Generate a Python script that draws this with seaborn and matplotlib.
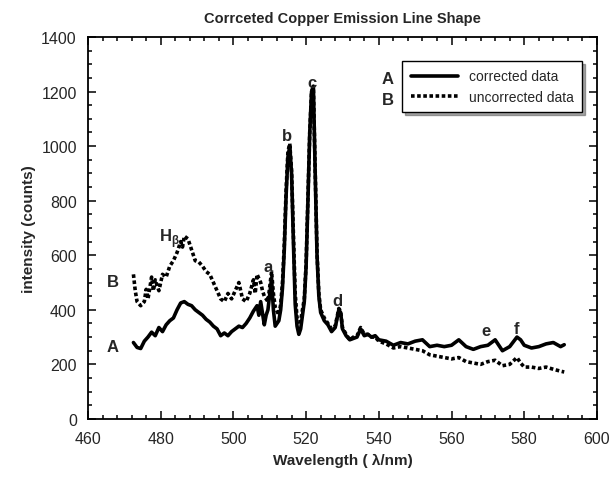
import matplotlib
matplotlib.use("Agg")
import matplotlib.pyplot as plt
from matplotlib.ticker import MultipleLocator
import seaborn as sns

# ── Data ──────────────────────────────────────────────────────
wl_a = [472.5, 473.5, 474.5, 475.5, 476.5, 477.5, 478.5, 479.5, 480.5, 481.5,
        482.5, 483.5, 484.5, 485.5, 486.5, 487.5, 488.5, 489.5, 490.5, 491.5,
        492.5, 493.5, 494.5, 495.5, 496.5, 497.5, 498.5, 499.5, 500.5, 501.5,
        502.5, 503.5, 504.5, 505.5, 506.5, 507.0, 507.5, 508.5, 509.0, 509.5,
        510.5, 511.0, 511.5, 512.5, 513.0, 513.5, 514.0, 514.5, 515.0, 515.5,
        516.0, 516.5, 517.0, 517.5, 518.0, 518.5, 519.0, 519.5, 520.0, 520.5,
        521.0, 521.5, 522.0, 522.5, 523.0, 523.5, 524.0, 525.0, 526.0, 527.0,
        528.0, 529.0, 529.5, 530.0, 531.0, 532.0, 533.0, 534.0, 535.0, 536.0,
        537.0, 538.0, 539.0, 540.0, 542.0, 544.0, 546.0, 548.0, 550.0, 552.0,
        554.0, 556.0, 558.0, 560.0, 562.0, 564.0, 566.0, 568.0, 570.0, 572.0,
        574.0, 576.0, 578.0, 579.0, 580.0, 582.0, 584.0, 586.0, 588.0, 590.0,
        591.0]
int_a = [280, 262, 258, 285, 300, 318, 305, 335, 320, 345,
         360, 370, 400, 425, 430, 420, 415, 400, 390, 380,
         365, 355, 340, 330, 305, 315, 305, 320, 330, 340,
         335, 350, 370, 395, 415, 380, 430, 345, 380, 400,
         515, 400, 340, 360, 400, 480, 620, 820, 960, 1000,
         900, 650, 420, 340, 310, 330, 380, 430, 560, 800,
         1050, 1200, 1220, 900, 600, 450, 390, 360, 345, 320,
         335, 400, 390, 330, 305, 290, 295, 300, 330, 305,
         310, 300, 305, 290, 285, 270, 280, 275, 285, 290,
         265, 270, 265, 270, 290, 265, 255, 265, 270, 290,
         250, 265, 300, 290, 270, 260, 265, 275, 280, 265,
         272]

wl_b = [472.5, 473.0, 473.5, 474.5, 475.5, 476.0, 476.5, 477.5, 478.0, 478.5,
        479.5, 480.5, 481.5, 482.5, 483.5, 484.5, 485.5, 486.0, 486.5, 487.5,
        488.0, 488.5, 489.5, 490.5, 491.5, 492.5, 493.5, 494.5, 495.5, 496.5,
        497.5, 498.5, 499.5, 500.5, 501.5, 502.5, 503.5, 504.5, 505.5, 506.0,
        506.5, 507.5, 508.0, 508.5, 509.5, 510.5, 511.0, 511.5, 512.5, 513.0,
        513.5, 514.0, 514.5, 515.0, 515.5, 516.0, 516.5, 517.0, 517.5, 518.0,
        518.5, 519.0, 519.5, 520.0, 520.5, 521.0, 521.5, 522.0, 522.5, 523.0,
        523.5, 524.0, 525.0, 526.0, 527.0, 528.0, 529.0, 529.5, 530.0, 531.0,
        532.0, 533.0, 534.0, 535.0, 536.0, 537.0, 538.0, 539.0, 540.0, 542.0,
        544.0, 546.0, 548.0, 550.0, 552.0, 554.0, 556.0, 558.0, 560.0, 562.0,
        564.0, 566.0, 568.0, 570.0, 572.0, 574.0, 576.0, 578.0, 579.0, 580.0,
        582.0, 584.0, 586.0, 588.0, 590.0, 591.0]
int_b = [530, 470, 430, 415, 430, 475, 440, 520, 470, 510,
         470, 530, 520, 560, 580, 610, 650, 630, 670, 660,
         640, 620, 580, 575, 560, 540, 530, 500, 470, 440,
         430, 460, 440, 470, 500, 440, 430, 460, 510, 460,
         530, 500, 470, 450, 430, 540, 460, 410, 380, 420,
         500, 640, 840, 980, 1010, 910, 680, 460, 370, 355,
         360, 400, 440, 570, 810, 1050, 1200, 1215, 910, 610,
         460, 400, 370, 350, 330, 340, 405, 395, 335, 310,
         290, 300, 305, 335, 310, 310, 300, 300, 285, 275,
         260, 265, 260, 255, 250, 235, 230, 225, 220, 225,
         210, 205, 200, 210, 215, 195, 200, 225, 205, 190,
         190, 185, 190, 182, 175, 172]

peak_labels = ["a", "b", "c", "d", "e", "f"]
peak_x = [509.6, 514.8, 521.7, 528.6, 569.4, 577.9]
peak_y = [560, 1040, 1235, 435, 325, 330]

# ── Style ─────────────────────────────────────────────────────
sns.set_style("ticks")
plt.rcParams["font.family"] = ["Liberation Sans", "DejaVu Sans"]

fig = plt.figure(figsize=(6.11, 4.81), dpi=100)
ax = fig.add_axes([0.144, 0.127, 0.833, 0.794])

sns.lineplot(x=wl_a, y=int_a, ax=ax, color="black", lw=2.6,
             label="corrected data", sort=False)
sns.lineplot(x=wl_b, y=int_b, ax=ax, color="black", lw=2.6,
             linestyle=(0, (1, 0.7)), label="uncorrected data", sort=False)

ax.set_xlim(460, 600)
ax.set_ylim(0, 1400)
ax.xaxis.set_major_locator(MultipleLocator(20))
ax.xaxis.set_minor_locator(MultipleLocator(4))
ax.yaxis.set_major_locator(MultipleLocator(200))
ax.yaxis.set_minor_locator(MultipleLocator(50))
ax.tick_params(which="both", direction="in", top=True, right=True,
               color="black", labelsize=11.5, width=1.1)
ax.tick_params(which="major", length=6)
ax.tick_params(which="minor", length=3)
ax.tick_params(axis="x", which="major", pad=9)
ax.tick_params(axis="y", which="major", pad=8)
for sp in ax.spines.values():
    sp.set_linewidth(1.3)
    sp.set_color("black")

ax.set_title("Corrceted Copper Emission Line Shape", fontsize=10.5,
             fontweight="bold", pad=11)
ax.set_xlabel("Wavelength ( \u03bb/nm)", fontsize=11, fontweight="bold",
              labelpad=5)
ax.set_ylabel("intensity (counts)", fontsize=11, fontweight="bold")

# ── Annotations ───────────────────────────────────────────────
ax.text(466.9, 267, "A", fontsize=12, fontweight="bold", ha="center", va="center")
ax.text(466.9, 502, "B", fontsize=12, fontweight="bold", ha="center", va="center")
ax.text(482.3, 665, "H$_\\mathregular{\u03b2}$", fontsize=12, fontweight="bold",
        ha="center", va="center")
for lab, x, y in zip(peak_labels, peak_x, peak_y):
    ax.text(x, y, lab, fontsize=12, fontweight="bold", ha="center", va="center")

leg = ax.legend(loc="upper right", bbox_to_anchor=(0.985, 0.955),
                frameon=True, fancybox=False, shadow=True, fontsize=10,
                handlelength=3.4, borderpad=0.6, labelspacing=0.45)
leg.get_frame().set_edgecolor("black")
leg.get_frame().set_linewidth(1.0)
ax.text(542.5, 1247, "A", fontsize=12, fontweight="bold", ha="center", va="center")
ax.text(542.5, 1170, "B", fontsize=12, fontweight="bold", ha="center", va="center")

fig.savefig("out.png", dpi=100)
